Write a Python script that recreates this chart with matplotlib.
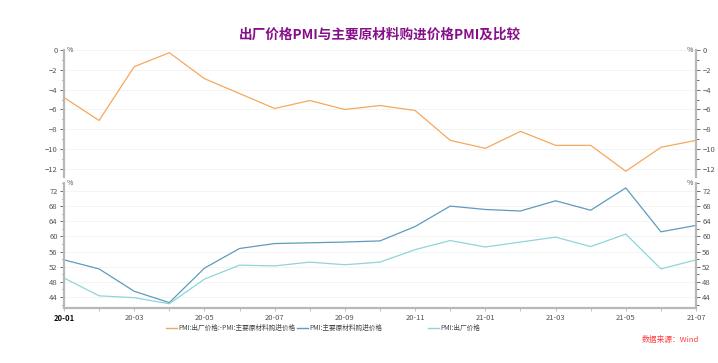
import matplotlib
matplotlib.use("Agg")
import matplotlib.pyplot as plt
from matplotlib.ticker import AutoMinorLocator, FixedLocator
from matplotlib.lines import Line2D

plt.rcParams['font.family'] = ['Noto Sans CJK SC', 'DejaVu Sans']

months = ['20-01', '20-02', '20-03', '20-04', '20-05', '20-06', '20-07', '20-08', '20-09', '20-10',
          '20-11', '20-12', '21-01', '21-02', '21-03', '21-04', '21-05', '21-06', '21-07']
purchase = [53.8, 51.4, 45.5, 42.5, 51.6, 56.8, 58.1, 58.3, 58.5, 58.8,
            62.6, 68.0, 67.1, 66.7, 69.4, 66.9, 72.8, 61.2, 62.9]
output = [49.0, 44.3, 43.8, 42.2, 48.7, 52.4, 52.2, 53.2, 52.5, 53.2,
          56.5, 58.9, 57.2, 58.5, 59.8, 57.3, 60.6, 51.4, 53.8]
diff = [round(o - p, 1) for o, p in zip(output, purchase)]

c_diff = '#f5a85e'
c_pur = '#5e9bbd'
c_out = '#8fd5d9'
spine_c = '#b8b8b8'
tick_c = '#555555'

fig = plt.figure(figsize=(7.18, 3.63), dpi=100)
ax1 = fig.add_axes([0.0891, 0.5132, 0.8803, 0.3498])
ax2 = fig.add_axes([0.0891, 0.1507, 0.8803, 0.3452])

x = list(range(len(months)))
ax1.plot(x, diff, color=c_diff, lw=0.9)
ax2.plot(x, purchase, color=c_pur, lw=0.9)
ax2.plot(x, output, color=c_out, lw=0.9)

ax1.set_ylim(-12.75, 0)
ax1.set_yticks([0, -2, -4, -6, -8, -10, -12])
ax2.set_ylim(41, 74.1)
ax2.set_yticks([44, 48, 52, 56, 60, 64, 68, 72])

for ax in (ax1, ax2):
    ax.set_xlim(0, len(months) - 1)
    ax.yaxis.set_minor_locator(AutoMinorLocator(2))
    ax.tick_params(axis='y', which='both', left=True, right=True, labelleft=True, labelright=True,
                   direction='out', colors=tick_c, labelsize=5.5, pad=1.5, width=0.6)
    ax.tick_params(axis='y', which='major', length=3)
    ax.tick_params(axis='y', which='minor', length=1.8)
    ax.grid(axis='y', color='#f3f3f3', lw=0.6)
    ax.spines['top'].set_visible(False)
    for s in ('left', 'right'):
        ax.spines[s].set_color(spine_c)
        ax.spines[s].set_linewidth(1.6)
    ax.text(0.004, 1.0, '%', transform=ax.transAxes, fontsize=5, color=tick_c, ha='left', va='center')
    ax.text(0.996, 1.0, '%', transform=ax.transAxes, fontsize=5, color=tick_c, ha='right', va='center')

ax1.spines['bottom'].set_visible(False)
ax1.tick_params(axis='x', which='both', bottom=False, labelbottom=False)

ax2.spines['bottom'].set_color(spine_c)
ax2.spines['bottom'].set_linewidth(1.6)
ax2.set_xticks(x[::2])
ax2.set_xticklabels(months[::2])
ax2.xaxis.set_minor_locator(FixedLocator(x[1::2]))
ax2.tick_params(axis='x', which='both', direction='out', colors=spine_c, labelcolor=tick_c,
                labelsize=5.5, pad=2, length=2, width=0.6)
ax2.get_xticklabels()[0].set_fontweight('bold')
ax2.get_xticklabels()[0].set_color('#111111')

fig.text(0.529, 0.904, '出厂价格PMI与主要原材料购进价格PMI及比较', color='#86108a',
         fontsize=9.8, fontweight='bold', ha='center', va='center')

labels = ['PMI:出厂价格:-PMI:主要原材料购进价格', 'PMI:主要原材料购进价格', 'PMI:出厂价格']
colors = [c_diff, c_pur, c_out]
xs = [0.231, 0.4136, 0.596]
for lab, col, xp in zip(labels, colors, xs):
    h = Line2D([], [], color=col, lw=1)
    fig.legend(handles=[h], labels=[lab], loc='center left', bbox_to_anchor=(xp, 0.096),
               frameon=False, fontsize=4.8, handlelength=1.6, handletextpad=0.25,
               borderpad=0, borderaxespad=0, labelcolor='#444444')

fig.text(0.973, 0.063, '数据来源：Wind', color='#ff3b3b', fontsize=5.6, style='italic',
         ha='right', va='center')

fig.savefig('out.png', dpi=100)
